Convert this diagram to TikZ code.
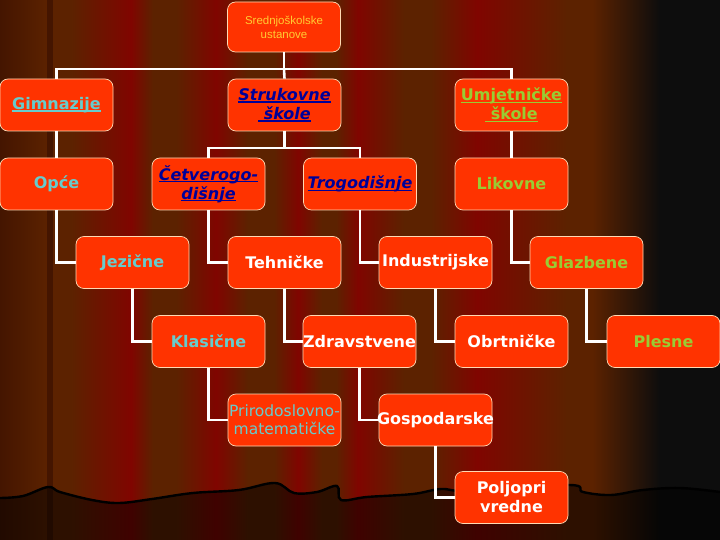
\documentclass[tikz,border=0pt]{standalone}
\usepackage{fontspec}
\setmainfont{DejaVu Sans}
\newfontfamily\headfont{Liberation Sans}
\usetikzlibrary{positioning, calc}
\definecolor{cBox}{HTML}{FF3300}
\definecolor{cEdge}{HTML}{FFD9B3}
\definecolor{cCyan}{HTML}{66CCCC}
\definecolor{cBlue}{HTML}{000099}
\definecolor{cGreen}{HTML}{99CC33}
\definecolor{cGold}{HTML}{FFCC33}
\definecolor{cBrown}{HTML}{5C2200}
\definecolor{cFold}{HTML}{800500}
\definecolor{cShadow}{HTML}{441500}
\definecolor{cStage}{HTML}{0D0D0D}
\tikzset{
  schoolbox/.style={
    draw=cEdge, line width=0.7pt,
    rounded corners=8pt,
    fill=cBox,
    text=#1,
    align=center,
    inner sep=1pt,
    minimum width=113pt,
    minimum height=52pt,
    font=\fontsize{16}{19}\selectfont\bfseries
  },
  slantbox/.style={
    schoolbox=cBlue,
    font=\fontsize{16}{19}\selectfont\bfseries\itshape
  },
  link/.style={
    draw=white,
    line width=2.6pt
  }
}
\newcommand{\undl}[1]{\setbox0\hbox{#1}\rlap{\rule[-2.2pt]{\wd0}{1.2pt}}\box0}
\newcommand{\fitw}[1]{\makebox[100pt][c]{#1}}

\begin{document}
\begin{tikzpicture}[x=1pt, y=-1pt]
  \useasboundingbox (0,0) rectangle (720,540);

  % curtain
  \fill[cBrown] (0,0) rectangle (720,540);
  \shade[left color=cShadow, right color=cBrown] (0,0) rectangle (48,540);
  \fill[cShadow] (47,0) rectangle (53,540);
  \foreach \p/\l/\r in {131/60/22, 216/40/32, 298/24/24, 358/22/46, 477/46/90} {
    \shade[left color=cBrown, right color=cFold] (\p-\l,0) rectangle (\p,540);
    \shade[left color=cFold, right color=cBrown] (\p,0) rectangle (\p+\r,540);
  }
  \shade[left color=cBrown, right color=cStage] (592,0) rectangle (660,540);
  \fill[cStage] (659.5,0) rectangle (720,540);

  % stage floor
  \fill[black, fill opacity=0.5] plot[smooth, tension=0.6] coordinates {(0,498) (23,496) (48,487) (60,492) (92,500) (119,503) (152,499) (193,493) (239,490) (275,483) (294,493) (317,492) (337,486) (341,500) (367,497) (413,494) (441,489) (470,491) (569,485) (583,492) (611,495) (643,490) (680,488) (720,492)} -- (720,540) -- (0,540) -- cycle;
  \draw[black, line width=2.4pt] plot[smooth, tension=0.6] coordinates {(0,498) (23,496) (48,487) (60,492) (92,500) (119,503) (152,499) (193,493) (239,490) (275,483) (294,493) (317,492) (337,486) (341,500) (367,497) (413,494) (441,489) (470,491) (569,485) (583,492) (611,495) (643,490) (680,488) (720,492)};

  \node[schoolbox=cGold, minimum height=50pt, font=\headfont\fontsize{11.5}{14}\selectfont] (sred) at (284,27) {Srednjoškolske\\ustanove};

  \node[schoolbox=cCyan] (gimn) at (56.5,105) {\undl{Gimnazije}};
  \node[slantbox] (struk) at (284.5,105) {\undl{Strukovne}\\\undl{~škole}};
  \node[schoolbox=cGreen] (umjet) at (511.5,105) {\undl{Umjetničke}\\\undl{~škole}};

  \node[schoolbox=cCyan] (opce) at (56.5,184) {Opće};
  \node[slantbox] (cetv) at (208.5,184) {\undl{Četverogo-}\\\undl{dišnje}};
  \node[slantbox] (trog) at (360,184) {\undl{Trogodišnje}};
  \node[schoolbox=cGreen] (likov) at (511.5,184) {Likovne};

  \node[schoolbox=cCyan] (jezic) at (132.5,262.5) {Jezične};
  \node[schoolbox=white] (tehn) at (284.5,262.5) {Tehničke};
  \node[schoolbox=white] (indus) at (435.5,262.5) {Industrijske};
  \node[schoolbox=cGreen] (glazb) at (586.5,262.5) {Glazbene};

  \node[schoolbox=cCyan] (klas) at (208.5,341.5) {Klasične};
  \node[schoolbox=white] (zdrav) at (359.5,341.5) {\fitw{Zdravstvene}};
  \node[schoolbox=white] (obrt) at (511.5,341.5) {Obrtničke};
  \node[schoolbox=cGreen] (plesn) at (663.5,341.5) {Plesne};

  \node[schoolbox=cCyan, font=\fontsize{15.5}{18}\selectfont] (prir) at (284.5,420) {\fitw{Prirodoslovno-}\\matematičke};
  \node[schoolbox=white] (gosp) at (435.5,420) {\fitw{Gospodarske}};

  \node[schoolbox=white] (poljo) at (511.5,497.5) {Poljopri\\vredne};

  % links
  \coordinate (busA) at (284,69);
  \coordinate (busB) at (284.5,148);
  \draw[link] (sred.south) -- (busA) -| (gimn.north);
  \draw[link] (busA) -| (umjet.north);
  \draw[link] (busA) -- (struk.north);
  \draw[link] (struk.south) -- (busB) -| (cetv.north);
  \draw[link] (busB) -| (trog.north);
  \draw[link] (gimn) -- (opce);
  \draw[link] (umjet) -- (likov);
  \foreach \a/\b in {opce/jezic, jezic/klas, klas/prir, cetv/tehn, tehn/zdrav,
                     zdrav/gosp, gosp/poljo, trog/indus, indus/obrt, likov/glazb, glazb/plesn}
    \draw[link] (\a.south) |- (\b.west);
\end{tikzpicture}
\end{document}
